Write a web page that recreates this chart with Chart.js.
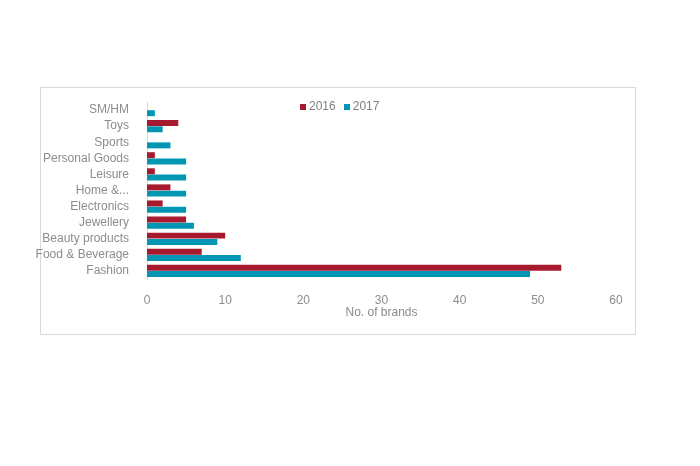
<!DOCTYPE html>
<html>
<head>
<meta charset="utf-8">
<script src="https://cdn.jsdelivr.net/npm/chart.js@4"></script>
<style>
    body { margin: 0; background: #fff; font-family: "Liberation Sans", Arial, sans-serif; }
    #wrap { position: relative; width: 700px; height: 466px; }
    #box { position: absolute; left: 40px; top: 87px; width: 594px; height: 246px; border: 1px solid #d9d9d9; }
    #legend { position: absolute; left: 300px; top: 99px; font-size: 12px; color: #808080; display: flex; gap: 8px; }
    #legend span i { display: inline-block; width: 6px; height: 6px; margin-right: 3px; }
    canvas { position: absolute; left: 0; top: 0; }
</style>
</head>
<body>
<div id="wrap">
    <div id="box"></div>
    <canvas id="chart" width="700" height="466"></canvas>
    <div id="legend"></div>
</div>
<script>
const categories = ['SM/HM', 'Toys', 'Sports', 'Personal Goods', 'Leisure', 'Home &...', 'Electronics', 'Jewellery', 'Beauty products', 'Food & Beverage', 'Fashion'];
const values2016 = [0, 4, 0, 1, 1, 3, 2, 5, 10, 7, 53];
const values2017 = [1, 2, 3, 5, 5, 5, 5, 6, 9, 12, 49];
const seriesNames = ['2016', '2017'];
const colors = ['#A6192E', '#0096B4'];

document.getElementById('legend').innerHTML = seriesNames
    .map((n, i) => `<span><i style="background:${colors[i]}"></i>${n}</span>`).join('');

Chart.defaults.font.family = '"Liberation Sans", Arial, sans-serif';
Chart.defaults.font.size = 12;
Chart.defaults.color = '#8c8c8c';

new Chart(document.getElementById('chart'), {
    type: 'bar',
    data: {
        labels: categories,
        datasets: [
            { label: seriesNames[0], data: values2016, backgroundColor: colors[0] },
            { label: seriesNames[1], data: values2017, backgroundColor: colors[1] }
        ]
    },
    options: {
        indexAxis: 'y',
        responsive: false,
        animation: false,
        layout: { padding: { top: 102, right: 84, bottom: 142, left: 0 } },
        datasets: { bar: { categoryPercentage: 0.78, barPercentage: 0.95 } },
        plugins: { legend: { display: false }, tooltip: { enabled: false } },
        scales: {
            x: {
                min: 0, max: 60,
                ticks: { stepSize: 10, padding: 6 },
                grid: { display: false },
                border: { display: false },
                title: { display: true, text: 'No. of brands', padding: { top: 4 } },
                afterFit: s => { s.height = 45; }
            },
            y: {
                ticks: { padding: 10, autoSkip: false },
                grid: { display: false },
                border: { color: '#d9d9d9' },
                afterFit: s => { s.width = 147; }
            }
        }
    }
});
</script>
</body>
</html>
